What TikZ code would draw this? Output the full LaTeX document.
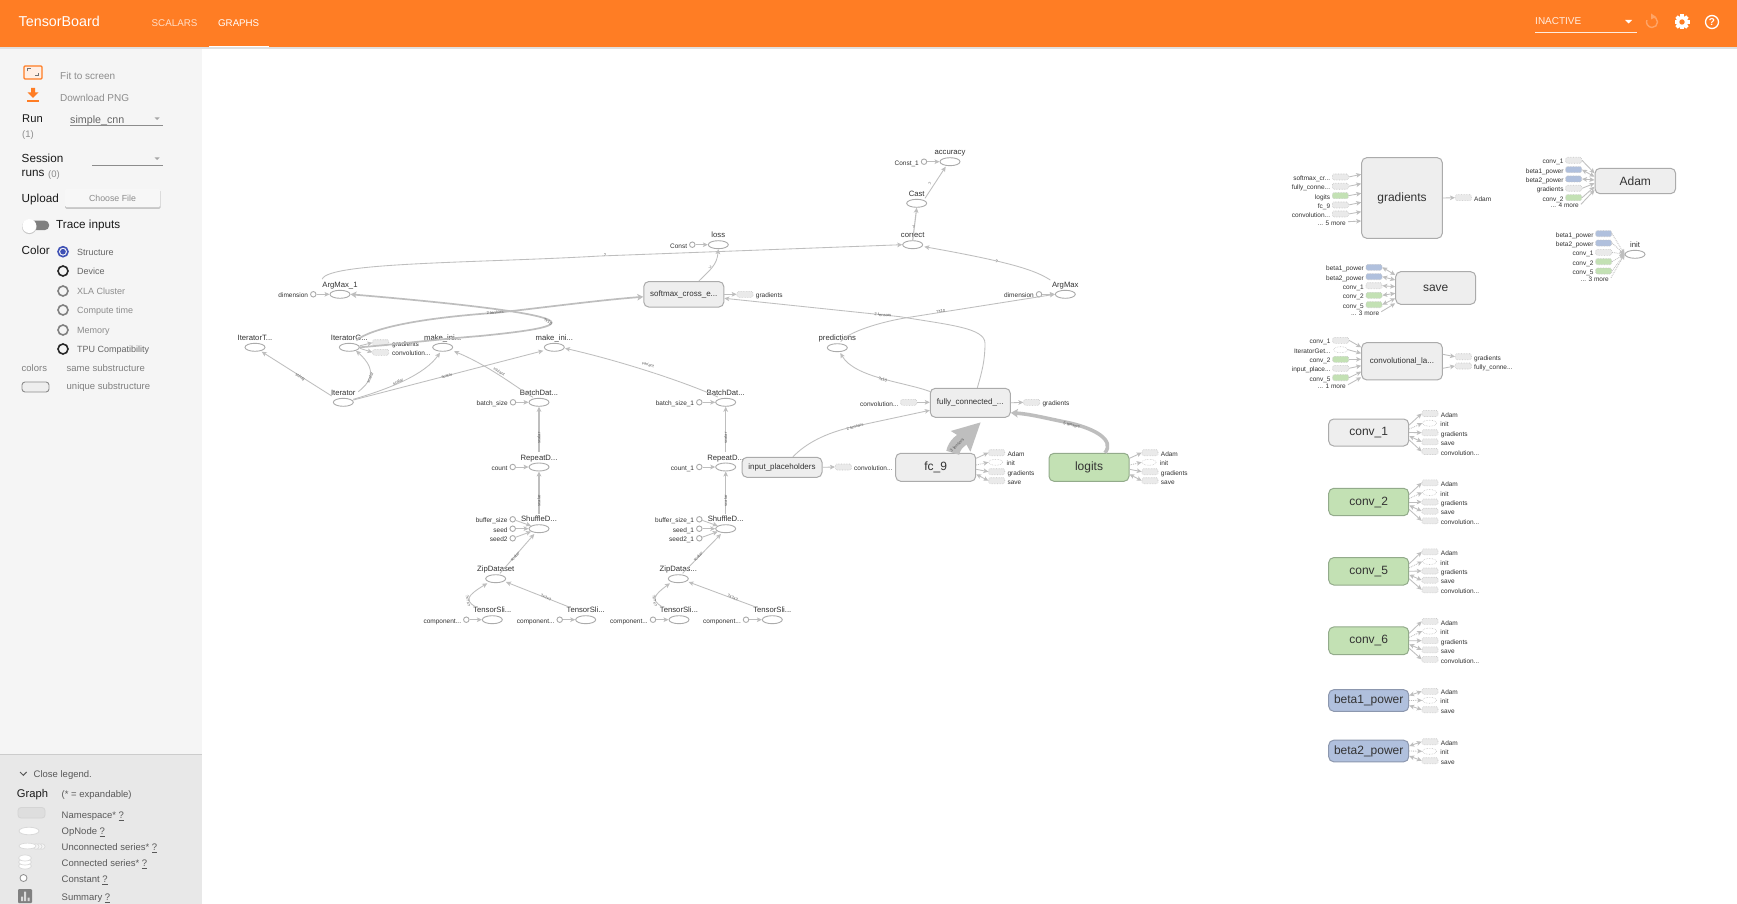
\documentclass[tikz,border=0pt]{standalone}
\usepackage{fontspec}
\setmainfont{Liberation Sans}
\usetikzlibrary{arrows.meta,calc,shapes.geometric}
\definecolor{orng}{HTML}{FF7D24}
\definecolor{edgec}{HTML}{BEBEBE}
\definecolor{opline}{HTML}{ABABAB}
\definecolor{boxfill}{HTML}{EEEEEE}
\definecolor{grnfill}{HTML}{C3E1B4}
\definecolor{grnline}{HTML}{93AB8B}
\definecolor{blufill}{HTML}{B0C0DD}
\definecolor{bluline}{HTML}{8C97AE}
\definecolor{auxline}{HTML}{C4C4C4}
\definecolor{auxfill}{HTML}{EAEAEA}
\definecolor{txt}{HTML}{333333}
\definecolor{sidebar}{HTML}{F5F5F5}
\definecolor{legbg}{HTML}{E8E8E8}
\definecolor{dim}{HTML}{8C8C8C}
\definecolor{radblue}{HTML}{3F51B5}
\tikzset{
  tx/.style={inner sep=0pt,text height=.8em,text depth=.08em,text=txt},
  oplab/.style={tx,font=\fontsize{7.7}{9}\selectfont},
  auxlab/.style={tx,font=\fontsize{6.5}{8}\selectfont},
  elab/.style={inner sep=0pt,text=black!65,font=\fontsize{4.1}{5}\selectfont},
  opn/.style={ellipse,draw=opline,line width=.9pt,fill=white,minimum width=20pt,minimum height=8pt,inner sep=0pt},
  cst/.style={circle,draw=opline,line width=.9pt,fill=white,minimum size=5.5pt,inner sep=0pt},
  gbox/.style={rectangle,rounded corners=5pt,draw=opline,line width=1pt,fill=boxfill,inner sep=0pt,text=txt},
  grnbox/.style={gbox,draw=grnline,fill=grnfill},
  blubox/.style={gbox,draw=bluline,fill=blufill},
  auxg/.style={rectangle,rounded corners=1.5pt,draw=auxline,densely dotted,line width=.6pt,fill=auxfill,minimum width=16pt,minimum height=6pt,inner sep=0pt},
  auxgrn/.style={auxg,fill=grnfill},
  auxblu/.style={auxg,fill=blufill},
  auxo/.style={ellipse,draw=auxline,densely dotted,line width=.6pt,fill=white,minimum width=14pt,minimum height=6pt,inner sep=0pt},
  e/.style={draw=edgec,line width=.85pt,-{Stealth[length=5pt,width=4.6pt,inset=1.2pt]}},
  eb/.style={e,{Stealth[length=5pt,width=4.6pt,inset=1.2pt]}-{Stealth[length=5pt,width=4.6pt,inset=1.2pt]}},
  ed/.style={e,densely dotted},
  ethick/.style={e,line width=1.7pt,-{Stealth[length=6pt,width=6.5pt,inset=1.5pt]}},
  side/.style={tx,text=dim,font=\fontsize{10}{12}\selectfont,anchor=west},
  sideb/.style={tx,text=black!90,font=\fontsize{11.7}{13}\selectfont,anchor=west},
  rad/.style={tx,font=\fontsize{9}{11}\selectfont,anchor=west,text=black!60},
  leg/.style={tx,font=\fontsize{9.5}{11}\selectfont,anchor=west,text=black!65},
  radio/.style={circle,line width=1.6pt,minimum size=10pt,inner sep=0pt,draw=#1,fill=none},
}
% op node: name x y label
\newcommand\opnode[4]{\node[opn] (#1) at (#2,#3) {};\node[oplab] (#1l) at ($(#1)+(0,-10.6)$) {#4};}
% constant: name x y label target
\newcommand\cstnode[5]{\node[cst] (#1) at (#2,#3) {};\node[auxlab,anchor=east] (#1l) at ($(#1)+(-5,0)$) {#4};\draw[e] (#1) -- (#5);}
% input row: box id auxx y style label dy edge
\newcommand\inrow[8]{\node[#5] (#2) at (#3,#4) {};\node[auxlab,anchor=east] (#2l) at ($(#2)+(-10,0)$) {#6};\draw[#8] (#2.east) -- ($(#1.west)+(0,#7)$);}
% more row: box id xright y text dy edge
\newcommand\morerow[7]{\node[auxlab,anchor=east] (#2) at (#3,#4) {#5};\draw[#7] ($(#2.east)+(2,0)$) -- ($(#1.west)+(0,#6)$);}
% output row: box id auxx y style label dy edge
\newcommand\outrow[8]{\node[#5] (#2) at (#3,#4) {};\node[auxlab,anchor=west] (#2l) at ($(#2)+(10.7,0)$) {#6};\draw[#8] ($(#1.east)+(0,#7)$) -- (#2.west);}
% variable box with its five consumers
\newcommand\varbox[5]{%
 \node[#2,minimum width=80pt,minimum height=#5pt,font=\fontsize{12}{14}\selectfont] (#1) at (1368.7,#3) {#4};
}
\newcommand\fiverows[2]{%
 \outrow{#1}{#1a}{1430}{\fpeval{#2-19.2}}{auxg}{Adam}{-7.5}{e}
 \outrow{#1}{#1b}{1429.5}{\fpeval{#2-9.5}}{auxo}{init}{-3.5}{ed}
 \outrow{#1}{#1c}{1430}{#2}{auxg}{gradients}{0}{e}
 \outrow{#1}{#1d}{1430}{\fpeval{#2+9.2}}{auxg}{save}{3.5}{eb}
 \outrow{#1}{#1e}{1430}{\fpeval{#2+18.8}}{auxg}{convolution...}{7.5}{e}
}
\begin{document}
\begin{tikzpicture}[x=1pt,y=-1pt]
\useasboundingbox (0,0) rectangle (1737,904);
\fill[white] (0,0) rectangle (1737,904);
% sidebar & legend
\fill[sidebar] (0,47) rectangle (202,754);
\fill[legbg] (0,754) rectangle (202,904);
\draw[black!20,line width=.8pt] (0,754) -- (202,754);
% header
\fill[black!12] (0,47) rectangle (1737,49);
\fill[orng] (0,0) rectangle (1737,47);
\node[tx,text=white,anchor=west,font=\fontsize{14.3}{16}\selectfont] (title) at (18.5,23) {TensorBoard};
\node[tx,text=white!75!orng,anchor=west,font=\fontsize{9.8}{11}\selectfont] (tabs) at (151.5,23) {SCALARS};
\node[tx,text=white,anchor=west,font=\fontsize{9.7}{11}\selectfont] (tabg) at (218,23) {GRAPHS};
\fill[white] (209,46) rectangle (269,47);
\node[tx,text=white!85!orng,anchor=west,font=\fontsize{10}{12}\selectfont] (inact) at (1535,21) {INACTIVE};
\fill[white!85!orng] (1535,32) rectangle (1637,33);
\fill[white] (1625,20) -- (1632,20) -- (1628.5,23.5) -- cycle;
\draw[white!30!orng,line width=1.4pt] (1652,16.5) arc[start angle=90,delta angle=-290,radius=5.5pt];
\fill[white!30!orng] (1651,13.5) -- (1656,16.8) -- (1651,19.5) -- cycle;
% gear
\foreach \a in {0,45,...,315}{\fill[white,rotate around={\a:(1682,22)}] (1680.3,14.5) rectangle (1683.7,29.5);}
\fill[white] (1682,22) circle[radius=6pt];
\fill[orng] (1682,22) circle[radius=2.7pt];
% help
\draw[white,line width=1.3pt] (1712,22) circle[radius=6.5pt];
\node[inner sep=0pt,text=white,font=\bfseries\fontsize{10}{11}\selectfont] (helpq) at (1712,22) {?};
% sidebar content
\draw[orng,line width=1.3pt,fill=orng!12,rounded corners=1pt] (24,66) rectangle (42,79);
\draw[black!55,line width=1pt] (27.5,71.5) -- (27.5,69) -- (31,69) (38.5,73.5) -- (38.5,76) -- (35,76);
\fill[orng] (31,88) rectangle (35,92.5) (27.5,92.5) -- (38.5,92.5) -- (33,98) -- cycle;
\fill[orng] (27,100) rectangle (39,102);
\node[side] (fit) at (60,75.5) {Fit to screen};
\node[side] (dl) at (60,97.5) {Download PNG};
\node[sideb,font=\fontsize{11.2}{13}\selectfont] (run) at (22,119) {Run};
\node[side,font=\fontsize{9.5}{11}\selectfont] (run1) at (22,134) {(1)};
\node[side,text=black!60,font=\fontsize{10.7}{12}\selectfont] (sc) at (70,119.5) {simple\_cnn};
\fill[black!45] (70,125) rectangle (163,125.9);
\fill[black!35] (154.5,117.5) -- (159.5,117.5) -- (157,120) -- cycle;
\node[sideb] (ses) at (21.5,159) {Session};
\node[sideb] (sr) at (21.5,173) {runs};
\node[side,font=\fontsize{9.5}{11}\selectfont] (sr0) at (48,173.5) {(0)};
\fill[black!45] (92,164.7) rectangle (163,165.6);
\fill[black!35] (154.5,157.5) -- (159.5,157.5) -- (157,160) -- cycle;
\node[sideb] (upl) at (21.5,199) {Upload};
\fill[black!22,rounded corners=1.5pt] (65,190) rectangle (160.5,209);
\node[rectangle,rounded corners=1.5pt,fill=white!97!black,minimum width=95pt,minimum height=18.5pt,inner sep=0pt,text=black!45,font=\fontsize{8.8}{10}\selectfont] (cf) at (112.5,198) {Choose File};
\fill[black!50,rounded corners=4pt] (28,220.7) rectangle (49,230);
\fill[black!22] (29.3,226.8) circle[radius=7.3pt];
\fill[white] (29.3,226) circle[radius=7pt];
\node[sideb] (tr) at (56,225) {Trace inputs};
\node[sideb] (col) at (21.5,251) {Color};
\node[radio=radblue] (r1) at (63,251.7) {};
\fill[radblue] (63,251.7) circle[radius=2.8pt];
\node[radio=black!85] (r2) at (63,271) {};
\node[radio=black!50] (r3) at (63,291) {};
\node[radio=black!50] (r4) at (63,310) {};
\node[radio=black!50] (r5) at (63,330) {};
\node[radio=black!85] (r6) at (63,349) {};
\node[rad] (t1) at (77,251.7) {Structure};
\node[rad] (t2) at (77,271) {Device};
\node[rad,text=black!45] (t3) at (77,291) {XLA Cluster};
\node[rad,text=black!45] (t4) at (77,310) {Compute time};
\node[rad,text=black!45] (t5) at (77,330) {Memory};
\node[rad] (t6) at (77,349) {TPU Compatibility};
\node[rad,font=\fontsize{9.5}{11}\selectfont,text=black!50] (cl) at (21.5,368) {colors};
\node[rad,font=\fontsize{9.5}{11}\selectfont,text=black!50] (ss) at (66.5,368) {same substructure};
\node[rad,font=\fontsize{9.5}{11}\selectfont,text=black!50] (us) at (66.5,386) {unique substructure};
\draw[black!45,fill=boxfill,rounded corners=3pt,line width=.9pt] (22,382) rectangle (49,392);
% legend
\draw[black!65,line width=1pt] (20,772) -- (23.3,775.3) -- (26.6,772);
\node[leg] (cll) at (33.5,774) {Close legend.};
\node[sideb,font=\fontsize{11.2}{13}\selectfont] (gr) at (16.7,794) {Graph};
\node[leg] (exp) at (61.5,794) {(* = expandable)};
\draw[black!17,fill=black!13,rounded corners=3pt,line width=.8pt] (18,807.5) rectangle (45,818);
\node[leg] (l1) at (61.5,815) {Namespace* \underline{?}};
\draw[black!15,fill=white,line width=.8pt] (29,831) ellipse[x radius=10pt,y radius=3.8pt];
\node[leg] (l2) at (61.5,831) {OpNode \underline{?}};
\foreach \xx in {42,39,36}{\draw[black!15,fill=white!96!black,line width=.7pt] (\xx,846.5) ellipse[x radius=3pt,y radius=2.8pt];}
\draw[black!15,fill=white,line width=.7pt] (27.5,846) ellipse[x radius=8.5pt,y radius=2.9pt];
\node[leg] (l3) at (61.5,847) {Unconnected series* \underline{?}};
\foreach \yy in {866,862,858}{\draw[black!15,fill=white,line width=.7pt] (25,\yy) ellipse[x radius=6.5pt,y radius=3pt];}
\node[leg] (l4) at (61.5,863) {Connected series* \underline{?}};
\draw[black!45,fill=white,line width=.8pt] (23.5,878) circle[radius=3.5pt];
\node[leg] (l5) at (61.5,879) {Constant \underline{?}};
\fill[black!50,rounded corners=1pt] (18,889) rectangle (32,903);
\fill[white!85!black] (21,896.5) rectangle (23,901) (24,891.5) rectangle (26,901) (27.5,897.5) rectangle (29.5,901);
\node[leg] (l6) at (61.5,897) {Summary \underline{?}};

% ------ main graph: nodes
\opnode{am1}{340}{294.3}{ArgMax\_1}
\opnode{itT}{255}{347.3}{IteratorT...}
\opnode{itG}{349.3}{347.3}{IteratorG...}
\opnode{mk1}{442.7}{347.3}{make\_ini...}
\opnode{mk2}{554.3}{347.3}{make\_ini...}
\opnode{iter}{343.3}{402.3}{Iterator}
\opnode{bd1}{539}{402.3}{BatchDat...}
\opnode{rp1}{539}{467}{RepeatD...}
\opnode{sh1}{539}{528.7}{ShuffleD...}
\opnode{zp1}{495.7}{578.7}{ZipDataset}
\opnode{ts1}{492.3}{619.7}{TensorSli...}
\opnode{ts2}{585.7}{619.7}{TensorSli...}
\opnode{bd2}{725.7}{402.3}{BatchDat...}
\opnode{rp2}{725.7}{467}{RepeatD...}
\opnode{sh2}{725.7}{528.7}{ShuffleD...}
\opnode{zp2}{678.3}{578.7}{ZipDatas...}
\opnode{ts3}{679}{619.7}{TensorSli...}
\opnode{ts4}{772.3}{619.7}{TensorSli...}
\opnode{acc}{950}{161.7}{accuracy}
\opnode{cast}{916.7}{203.3}{Cast}
\opnode{corr}{912.7}{244.7}{correct}
\opnode{loss}{718.3}{244.7}{loss}
\opnode{amx}{1065.3}{294.3}{ArgMax}
\opnode{pred}{837.3}{347.7}{predictions}
% boxes
\tikzset{small/.style={minimum width=80pt,font=\fontsize{8}{10}\selectfont}}
\node[gbox,small,minimum height=25.5pt] (soft) at (683.8,294.3) {softmax\_cross\_e...};
\node[gbox,small,minimum height=29pt] (fully) at (970.3,402.8) {fully\_connected\_...};
\node[gbox,small,minimum height=20pt] (inp) at (782,467.3) {input\_placeholders};
\node[gbox,minimum width=80pt,minimum height=28pt,font=\fontsize{12}{14}\selectfont] (fc) at (935.7,467.3) {fc\_9};
\node[grnbox,minimum width=80pt,minimum height=28pt,font=\fontsize{12}{14}\selectfont] (logit) at (1089,467.3) {logits};
% constants
\cstnode{c1}{313.3}{294.3}{dimension}{am1}
\cstnode{c2}{513}{402.3}{batch\_size}{bd1}
\cstnode{c3}{512.7}{467}{count}{rp1}
\cstnode{c4}{512.7}{519.3}{buffer\_size}{sh1}
\cstnode{c5}{512.7}{528.7}{seed}{sh1}
\cstnode{c6}{512.7}{538.3}{seed2}{sh1}
\cstnode{c7}{466.3}{619.7}{component...}{ts1}
\cstnode{c8}{559.7}{619.7}{component...}{ts2}
\cstnode{c9}{699.3}{402.3}{batch\_size\_1}{bd2}
\cstnode{c10}{699.3}{467}{count\_1}{rp2}
\cstnode{c11}{699.3}{519.3}{buffer\_size\_1}{sh2}
\cstnode{c12}{699.3}{528.7}{seed\_1}{sh2}
\cstnode{c13}{699.3}{538.3}{seed2\_1}{sh2}
\cstnode{c14}{653}{619.7}{component...}{ts3}
\cstnode{c15}{746}{619.7}{component...}{ts4}
\cstnode{c16}{924}{161.7}{Const\_1}{acc}
\cstnode{c17}{692.3}{244.7}{Const}{loss}
\cstnode{c18}{1039}{294.3}{dimension}{amx}

% aux of main graph
\node[auxg] (ga) at (380.7,342.7) {};
\node[auxlab,anchor=west] (gal) at (392,342.7) {gradients};
\node[auxg] (gb) at (380.7,352.3) {};
\node[auxlab,anchor=west] (gbl) at (392,352.3) {convolution...};
\draw[e] ($(itG.east)+(0,-1.5)$) -- (ga.west);
\draw[e] ($(itG.east)+(0,1)$) -- (gb.west);
\outrow{soft}{sa}{745}{294.3}{auxg}{gradients}{0}{e}
\outrow{fully}{fa}{1031.7}{402.3}{auxg}{gradients}{0}{e}
\node[auxg] (fb) at (908.7,402.3) {};
\node[auxlab,anchor=east] (fbl) at (898.7,402.5) {convolution...};
\draw[e] (fb.east) -- ($(fully.west)+(0,-.5)$);
\outrow{inp}{ia}{843.3}{467}{auxg}{convolution...}{0}{e}
\outrow{fc}{fca}{996.7}{452.7}{auxg}{Adam}{-9}{e}
\outrow{fc}{fcb}{995.7}{462.3}{auxo}{init}{-2.3}{ed}
\outrow{fc}{fcc}{996.7}{471.7}{auxg}{gradients}{2}{e}
\outrow{fc}{fcd}{996.7}{480.7}{auxg}{save}{7}{eb}
\outrow{logit}{la}{1150}{452.7}{auxg}{Adam}{-9}{e}
\outrow{logit}{lb}{1149}{462.3}{auxo}{init}{-2.3}{ed}
\outrow{logit}{lc}{1150}{471.7}{auxg}{gradients}{2}{e}
\outrow{logit}{ld}{1150}{480.7}{auxg}{save}{7}{eb}

% edges
\draw[e] (am1l.north west) .. controls (328,262) and (480,263) .. (600,256) -- (corr.west);
\node[elab] (le0) at (605,254.7) {?};
\draw[ethick] ($(itG)+(7,-7)$) .. controls (372,328) and (420,318) .. (497,312.7) .. controls (540,308) and (600,300) .. ($(soft.west)+(0,2.5)$);
\node[elab,rotate=7] (le1) at (495,312.5) {2 tensors};
\draw[ethick] (itG.east) .. controls (400,344) and (430,340) .. (480,336) .. controls (520,332) and (551,328) .. (551.7,322.7) .. controls (551.7,316) and (500,307) .. (am1.east);
\node[elab,rotate=-30] (le2) at (548,321.7) {?x10};
\draw[e] ($(iter)+(-11.6,-6.3)$) -- ($(itT)+(6.7,4.4)$);
\node[elab,rotate=-30] (le3) at (300,377.3) {string};
\draw[e] ($(iter)+(15,-10.6)$) .. controls (368,384) and (380,372) .. ($(itG)+(6.7,3.4)$);
\node[elab,rotate=65] (le4) at (370,378) {scalar};
\draw[e] ($(iter)+(10,-3)$) .. controls (392,388) and (425,374) .. ($(mk1)+(-2.7,5.4)$);
\node[elab,rotate=25] (le5) at (398,381.7) {scalar};
\draw[e] ($(iter)+(10,-2.3)$) -- ($(mk2)+(-11,3.4)$);
\node[elab,rotate=14] (le6) at (446.7,376) {scalar};
\draw[e] ($(bd1)+(-6,-5)$) .. controls (520,390) and (490,366) .. ($(mk1)+(11.3,4)$);
\node[elab,rotate=-30] (le7) at (499.3,371.7) {variant};
\draw[e] ($(bd2)+(-8,-5.3)$) .. controls (690,384) and (625,362) .. ($(mk2)+(10.7,1)$);
\node[elab,rotate=-17] (le8) at (648,364.5) {variant};
\draw[e,line width=1.1pt] (rp1l.north) -- (bd1.south);
\node[elab,rotate=90] (le9) at (539,438) {scalar};
\draw[e,line width=1.1pt] (sh1l.north) -- (rp1.south);
\node[elab,rotate=90] (le10) at (539,500.7) {scalar};
\draw[e] ($(zp1)+(4.3,-5.4)$) -- ($(sh1)+(-4.7,5.3)$);
\node[elab,rotate=45] (le11) at (515,556.7) {scalar};
\draw[e] ($(ts1)+(-17,-13)$) .. controls (464,600) and (468,595) .. ($(zp1)+(-8.4,4.6)$);
\node[elab,rotate=-80] (le12) at (468,600.7) {?x?x?};
\draw[e] ($(ts2)+(-17.4,-13)$) -- ($(zp1)+(10.3,3.3)$);
\node[elab,rotate=-22] (le13) at (546,597.7) {?x?x?};
\draw[e,line width=1.1pt] (rp2l.north) -- (bd2.south);
\node[elab,rotate=90] (le14) at (725.7,438) {scalar};
\draw[e,line width=1.1pt] (sh2l.north) -- (rp2.south);
\node[elab,rotate=90] (le15) at (725.7,500.7) {scalar};
\draw[e] ($(zp2)+(4.3,-5.4)$) -- ($(sh2)+(-4.7,5.3)$);
\node[elab,rotate=45] (le16) at (698,556.7) {scalar};
\draw[e] ($(ts3)+(-17,-13)$) .. controls (650.5,600) and (654,595) .. ($(zp2)+(-8.4,4.6)$);
\node[elab,rotate=-80] (le17) at (654.7,600.7) {?x?x?};
\draw[e] ($(ts4)+(-17.4,-13)$) -- ($(zp2)+(10.3,3.3)$);
\node[elab,rotate=-22] (le18) at (732.7,597.7) {?x?x?};
\draw[e] ($(soft.north)+(15,0)$) .. controls (710,270) and (717,265) .. (loss.south);
\node[elab,rotate=-50] (le19) at (710,267.7) {?};
\draw[e,line width=1.1pt] (corr.north) -- (cast.south);
\node[elab] (le20) at (913.5,226.7) {?};
\draw[e] ($(cast)+(8.3,-5)$) -- ($(acc)+(-4.3,5)$);
\node[elab,rotate=50] (le21) at (930,183.3) {?};
\draw[e] ($(amx)+(-15,-14.3)$) .. controls (1035,270) and (1010,262) .. ($(corr)+(11.6,2)$);
\node[elab,rotate=-15] (le22) at (996.7,261.7) {?};
\draw[e] ($(pred)+(3.4,-6)$) .. controls (848,332) and (880,322) .. (906.7,317.7) -- (amx.west);
\node[elab,rotate=8] (le23) at (940.7,311) {?x10};
\draw[e] ($(fully.north)+(7,0)$) .. controls (982,372) and (985,360) .. (985,343.3) .. controls (985,328) and (950,325) .. (900,316.7) -- ($(soft.east)+(0,4)$);
\node[elab,rotate=-5] (le24) at (883,315) {2 tensors};
\draw[e] ($(fully.west)+(1,-11)$) .. controls (905,382) and (855,378) .. ($(pred)+(3,5.3)$);
\node[elab,rotate=-20] (le25) at (882.7,379.5) {?x10};
\draw[e] ($(inp.north)+(11,0)$) .. controls (805,444) and (825,433) .. (853.3,426.7) -- ($(fully.west)+(0,7.5)$);
\node[elab,rotate=15] (le26) at (855,426.7) {2 tensors};
% thick fc_9 -> fully
\draw[edgec,line width=13.5pt,-{Stealth[length=27pt,width=27pt,inset=3pt]}] ($(fc.north)+(17,0)$) .. controls (955,443) and (962,440) .. ($(fully.south)+(10.4,4.5)$);
\node[elab,rotate=45,font=\fontsize{4.4}{5}\selectfont] (le27) at (957,445) {3 tensors};
% logits -> fully
\draw[edgec,line width=3.6pt,-{Stealth[length=7pt,width=8.5pt,inset=1.5pt]}] ($(logit.north)+(16,0)$) .. controls (1115,440) and (1095,428) .. (1065,422) .. controls (1045,418) and (1030,414) .. ($(fully.east)+(0,10)$);
\node[elab,rotate=-15] (le28) at (1071.7,425) {5 tensors};

% ------ right column: detached nodes
\node[gbox,minimum width=80.6pt,minimum height=80.6pt,font=\fontsize{12}{14}\selectfont] (grad) at (1402,198) {gradients};
\inrow{grad}{g1}{1340.3}{177}{auxg}{softmax\_cr...}{-23.7}{e}
\inrow{grad}{g2}{1340.3}{186.3}{auxg}{fully\_conne...}{-14.3}{e}
\inrow{grad}{g3}{1340.3}{195.7}{auxgrn}{logits}{-4.7}{e}
\inrow{grad}{g4}{1340.3}{205}{auxg}{fc\_9}{4.3}{e}
\inrow{grad}{g5}{1340.3}{214}{auxg}{convolution...}{13.7}{e}
\morerow{grad}{g6}{1346}{221.7}{... 5 more}{23}{e}
\outrow{grad}{g7}{1463.3}{197.7}{auxg}{Adam}{0}{e}

\node[gbox,minimum width=80.6pt,minimum height=25.4pt,font=\fontsize{12}{14}\selectfont] (adam) at (1635.3,181) {Adam};
\inrow{adam}{a1}{1573.7}{160.3}{auxg}{conv\_1}{-7.7}{e}
\inrow{adam}{a2}{1573.7}{169.7}{auxblu}{beta1\_power}{-4.3}{eb}
\inrow{adam}{a3}{1573.7}{179}{auxblu}{beta2\_power}{-1}{eb}
\inrow{adam}{a4}{1573.7}{188.3}{auxg}{gradients}{2.3}{e}
\inrow{adam}{a5}{1573.7}{197.7}{auxgrn}{conv\_2}{5.7}{e}
\morerow{adam}{a6}{1579}{204.3}{... 4 more}{9}{e}

\opnode{ini}{1635}{254.3}{init}
\inrow{ini}{i1}{1603.7}{233.7}{auxblu}{beta1\_power}{0}{ed}
\inrow{ini}{i2}{1603.7}{243}{auxblu}{beta2\_power}{0}{ed}
\inrow{ini}{i3}{1603.7}{252.3}{auxg}{conv\_1}{0}{ed}
\inrow{ini}{i4}{1603.7}{261.7}{auxgrn}{conv\_2}{0}{ed}
\inrow{ini}{i5}{1603.7}{271}{auxgrn}{conv\_5}{0}{ed}
\morerow{ini}{i6}{1609}{277.7}{... 3 more}{0}{ed}

\node[gbox,minimum width=80pt,minimum height=32.6pt,font=\fontsize{12}{14}\selectfont] (save) at (1435.7,288) {save};
\inrow{save}{s1}{1374}{267.3}{auxblu}{beta1\_power}{-13}{eb}
\inrow{save}{s2}{1374}{276.7}{auxblu}{beta2\_power}{-8}{eb}
\inrow{save}{s3}{1374}{285.7}{auxg}{conv\_1}{-1.3}{eb}
\inrow{save}{s4}{1374}{295.3}{auxgrn}{conv\_2}{5.3}{eb}
\inrow{save}{s5}{1374}{304.7}{auxgrn}{conv\_5}{10.3}{eb}
\morerow{save}{s6}{1379.3}{311.7}{... 3 more}{15.3}{e}

\node[gbox,small,minimum width=80.6pt,minimum height=37.3pt] (conv) at (1402,361.3) {convolutional\_la...};
\inrow{conv}{n1}{1340.7}{340.3}{auxg}{conv\_1}{-14}{e}
\node[auxo] (n2) at (1340.7,349.7) {};
\node[auxlab,anchor=east] (n2l) at (1330.7,349.7) {IteratorGet...};
\draw[e] (n2.east) -- ($(conv.west)+(0,-8)$);
\inrow{conv}{n3}{1340.7}{359.3}{auxgrn}{conv\_2}{-2}{e}
\inrow{conv}{n4}{1340.7}{368.3}{auxg}{input\_place...}{4.4}{e}
\inrow{conv}{n5}{1340.7}{377.7}{auxgrn}{conv\_5}{10.4}{e}
\morerow{conv}{n6}{1346}{384.7}{... 1 more}{16}{e}
\outrow{conv}{n7}{1463.3}{356.7}{auxg}{gradients}{-7}{e}
\outrow{conv}{n8}{1463.3}{366}{auxg}{fully\_conne...}{7}{e}

\varbox{cv1}{gbox}{432.5}{conv\_1}{27}
\fiverows{cv1}{432.7}
\varbox{cv2}{grnbox}{502}{conv\_2}{27.4}
\fiverows{cv2}{502}
\varbox{cv5}{grnbox}{571.3}{conv\_5}{27.4}
\fiverows{cv5}{571}
\varbox{cv6}{grnbox}{640.8}{conv\_6}{27.7}
\fiverows{cv6}{640.6}
\varbox{b1}{blubox}{700.5}{beta1\_power}{21.6}
\outrow{b1}{b1a}{1430}{691.3}{auxg}{Adam}{-5}{eb}
\outrow{b1}{b1b}{1429.5}{700.3}{auxo}{init}{0}{ed}
\outrow{b1}{b1c}{1430}{709.7}{auxg}{save}{5}{eb}
\varbox{b2}{blubox}{751}{beta2\_power}{21.6}
\outrow{b2}{b2a}{1430}{741.7}{auxg}{Adam}{-5}{eb}
\outrow{b2}{b2b}{1429.5}{751.3}{auxo}{init}{0}{ed}
\outrow{b2}{b2c}{1430}{760.7}{auxg}{save}{5}{eb}
\end{tikzpicture}
\end{document}
